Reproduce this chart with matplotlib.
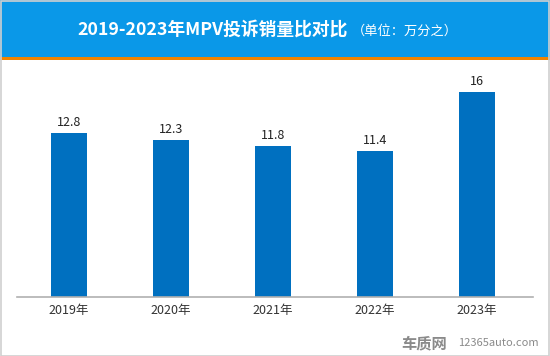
import matplotlib
matplotlib.use("Agg")
import matplotlib.pyplot as plt
from matplotlib.patches import Rectangle

plt.rcParams['font.family'] = ['Noto Sans CJK SC', 'DejaVu Sans']

years = ["2019年", "2020年", "2021年", "2022年", "2023年"]
values = [12.8, 12.3, 11.8, 11.4, 16]
value_labels = ["12.8", "12.3", "11.8", "11.4", "16"]

W, H = 550, 356
fig = plt.figure(figsize=(W / 100, H / 100), dpi=100)
fig.patch.set_facecolor("white")

# header band
fig.add_artist(Rectangle((0, 1 - 57 / H), 1, 57 / H, transform=fig.transFigure,
                         facecolor="#0a98e8", edgecolor="none", zorder=0))
fig.add_artist(Rectangle((0, 1 - 60 / H), 1, 3 / H, transform=fig.transFigure,
                         facecolor="#f08300", edgecolor="none", zorder=0))
# border
fig.add_artist(Rectangle((0.5 / W, 0.5 / H), 1 - 1.5 / W, 1 - 1.5 / H, transform=fig.transFigure,
                         facecolor="none", edgecolor="#d0d0d0", linewidth=1.2, zorder=5))

fig.text(213 / W, 1 - 30 / H, "2019-2023年MPV投诉销量比对比", color="white",
         fontsize=12.8, fontweight="bold", ha="center", va="center")
fig.text(405 / W, 1 - 31 / H, "（单位：万分之）", color="white",
         fontsize=9.5, ha="center", va="center")

ax_left, ax_right = 17, 533
ax_bottom, ax_top = 297, 70
ax = fig.add_axes([ax_left / W, 1 - ax_bottom / H, (ax_right - ax_left) / W, (ax_bottom - ax_top) / H])
x = list(range(len(years)))
bars = ax.bar(x, values, width=36 / 102, color="#0070c0", zorder=2)
ax.set_xlim(-52 / 102, 4 + 56 / 102)
ax.set_ylim(0, (ax_bottom - ax_top) / 12.8)
for xi, v, lab in zip(x, values, value_labels):
    ax.text(xi, v + 0.3, lab, ha="center", va="bottom", fontsize=9, color="#222222")
ax.set_xticks(x)
ax.set_xticklabels(years, fontsize=9, color="#333333")
ax.tick_params(axis="x", length=0, pad=5)
ax.set_yticks([])
for s in ["top", "right", "left"]:
    ax.spines[s].set_visible(False)
ax.spines["bottom"].set_color("#b0b0b0")
ax.spines["bottom"].set_linewidth(1.2)
ax.patch.set_alpha(0)

fig.text(401 / W, 1 - 343 / H, "车质网", color="#8a8a8a", fontsize=11, fontweight="bold",
         ha="left", va="center")
fig.text(458 / W, 1 - 343 / H, "12365auto.com", color="#8a8a8a", fontsize=8,
         ha="left", va="center")

fig.savefig("out.png", dpi=100)
